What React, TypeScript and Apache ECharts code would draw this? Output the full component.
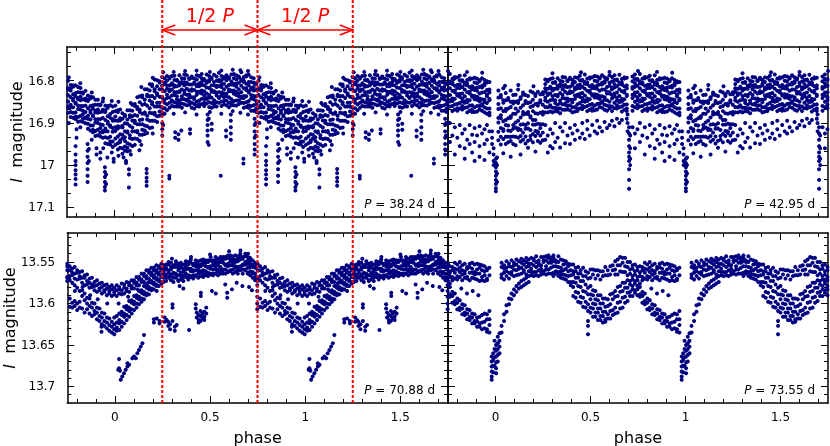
import React, { useEffect, useRef } from 'react';
import * as echarts from 'echarts';

const FONT = 'DejaVu Sans';
const NAVY = '#000080';
const RED = '#ff0000';

const periods = ['38.24', '42.95', '70.88', '73.55'];
const phaseRange = [-0.25, 1.75];
const phaseLabels = [0, 0.5, 1, 1.5];
const phaseMinor = [-0.2, -0.1, 0.1, 0.2, 0.3, 0.4, 0.6, 0.7, 0.8, 0.9, 1.1, 1.2, 1.3, 1.4, 1.6, 1.7];
const topMagRange = [16.72, 17.123];
const topMagLabels = [16.8, 16.9, 17, 17.1];
const topMagMinor = [16.7333, 16.7667, 16.8333, 16.8667, 16.9333, 16.9667, 17.0333, 17.0667];
const botMagRange = [13.515, 13.72];
const botMagLabels = [13.55, 13.6, 13.65, 13.7];
const botMagMinor = [13.52, 13.53, 13.54, 13.56, 13.57, 13.58, 13.59, 13.61, 13.62, 13.63, 13.64, 13.66, 13.67, 13.68, 13.69, 13.71];
const halfPeriodMarks = [0.25, 0.75, 1.25];

// each row: [phase, magnitude, magnitude, ...] (phase 0..1)
const p38Band: number[][] = [
  [0.004, 16.859, 16.872, 16.885, 16.894, 16.91, 16.919, 16.937, 16.952],
  [0.017, 16.87, 16.874, 16.895, 16.908, 16.913, 16.932, 16.948, 16.963],
  [0.029, 16.868, 16.889, 16.894, 16.909, 16.927, 16.941, 16.945, 16.959],
  [0.041, 16.877, 16.89, 16.907, 16.911, 16.928, 16.937, 16.96, 16.973],
  [0.054, 16.881, 16.884, 16.901, 16.92, 16.934, 16.943, 16.956, 16.966],
  [0.067, 16.87, 16.892, 16.902, 16.92, 16.923, 16.948, 16.959, 16.967],
  [0.08, 16.87, 16.882, 16.886, 16.907, 16.929, 16.936, 16.951, 16.966],
  [0.093, 16.857, 16.871, 16.884, 16.894, 16.911, 16.92, 16.938, 16.955],
  [0.106, 16.855, 16.86, 16.881, 16.895, 16.9, 16.92, 16.937, 16.952],
  [0.119, 16.839, 16.862, 16.867, 16.883, 16.903, 16.919, 16.922, 16.938],
  [0.132, 16.837, 16.851, 16.869, 16.874, 16.893, 16.903, 16.928, 16.943],
  [0.145, 16.835, 16.839, 16.857, 16.878, 16.892, 16.903, 16.916, 16.928],
  [0.158, 16.82, 16.845, 16.855, 16.875, 16.878, 16.906, 16.918, 16.926],
  [0.171, 16.82, 16.833, 16.837, 16.859, 16.883, 16.892, 16.908, 16.924],
  [0.184, 16.808, 16.823, 16.837, 16.847, 16.865, 16.876, 16.895, 16.912],
  [0.197, 16.809, 16.813, 16.836, 16.851, 16.856, 16.877, 16.895, 16.911],
  [0.21, 16.797, 16.82, 16.825, 16.841, 16.861, 16.876, 16.88, 16.895],
  [0.223, 16.799, 16.813, 16.83, 16.834, 16.852, 16.861, 16.884, 16.898],
  [0.236, 16.801, 16.804, 16.82, 16.838, 16.852, 16.861, 16.873, 16.883],
  [0.249, 16.791, 16.812, 16.821, 16.838, 16.84, 16.864, 16.875, 16.882],
  [0.262, 16.794, 16.804, 16.808, 16.825, 16.845, 16.852, 16.865, 16.878],
  [0.275, 16.789, 16.8, 16.811, 16.819, 16.833, 16.841, 16.856, 16.87],
  [0.288, 16.792, 16.795, 16.811, 16.821, 16.825, 16.84, 16.852, 16.864],
  [0.301, 16.789, 16.806, 16.809, 16.821, 16.835, 16.847, 16.849, 16.86],
  [0.314, 16.788, 16.798, 16.811, 16.814, 16.827, 16.834, 16.851, 16.861],
  [0.327, 16.798, 16.8, 16.813, 16.827, 16.837, 16.844, 16.853, 16.861],
  [0.34, 16.787, 16.804, 16.811, 16.825, 16.827, 16.847, 16.855, 16.861],
  [0.353, 16.794, 16.803, 16.806, 16.821, 16.837, 16.843, 16.854, 16.864],
  [0.366, 16.785, 16.795, 16.804, 16.811, 16.824, 16.831, 16.844, 16.856],
  [0.379, 16.787, 16.804, 16.807, 16.819, 16.833, 16.845, 16.847, 16.858],
  [0.392, 16.794, 16.796, 16.809, 16.823, 16.833, 16.84, 16.849, 16.857],
  [0.405, 16.79, 16.793, 16.809, 16.82, 16.824, 16.839, 16.852, 16.864],
  [0.418, 16.795, 16.804, 16.807, 16.822, 16.839, 16.844, 16.855, 16.866],
  [0.431, 16.787, 16.797, 16.81, 16.813, 16.826, 16.833, 16.85, 16.86],
  [0.444, 16.789, 16.806, 16.813, 16.826, 16.828, 16.847, 16.856, 16.861],
  [0.457, 16.784, 16.794, 16.803, 16.81, 16.823, 16.83, 16.843, 16.855],
  [0.47, 16.796, 16.798, 16.811, 16.825, 16.835, 16.843, 16.852, 16.86],
  [0.483, 16.785, 16.801, 16.805, 16.816, 16.83, 16.841, 16.844, 16.854],
  [0.496, 16.789, 16.798, 16.802, 16.817, 16.834, 16.84, 16.851, 16.862],
  [0.509, 16.793, 16.796, 16.811, 16.822, 16.826, 16.84, 16.853, 16.864],
  [0.522, 16.786, 16.803, 16.811, 16.825, 16.827, 16.846, 16.855, 16.861],
  [0.535, 16.79, 16.8, 16.812, 16.815, 16.828, 16.835, 16.851, 16.861],
  [0.548, 16.781, 16.798, 16.801, 16.813, 16.827, 16.839, 16.841, 16.852],
  [0.561, 16.789, 16.799, 16.808, 16.815, 16.828, 16.835, 16.849, 16.86],
  [0.574, 16.792, 16.794, 16.807, 16.821, 16.831, 16.839, 16.848, 16.856],
  [0.587, 16.787, 16.796, 16.799, 16.814, 16.831, 16.836, 16.847, 16.858],
  [0.6, 16.792, 16.795, 16.81, 16.821, 16.825, 16.839, 16.852, 16.863],
  [0.613, 16.785, 16.802, 16.809, 16.823, 16.825, 16.844, 16.853, 16.858],
  [0.626, 16.784, 16.794, 16.807, 16.81, 16.823, 16.831, 16.848, 16.858],
  [0.639, 16.787, 16.797, 16.807, 16.814, 16.827, 16.834, 16.847, 16.859],
  [0.652, 16.79, 16.792, 16.805, 16.82, 16.83, 16.837, 16.847, 16.855],
  [0.665, 16.78, 16.797, 16.8, 16.812, 16.827, 16.838, 16.841, 16.852],
  [0.678, 16.791, 16.8, 16.803, 16.818, 16.836, 16.841, 16.853, 16.864],
  [0.691, 16.787, 16.79, 16.807, 16.818, 16.822, 16.837, 16.851, 16.862],
  [0.704, 16.786, 16.803, 16.811, 16.825, 16.828, 16.848, 16.858, 16.864],
  [0.717, 16.792, 16.803, 16.817, 16.82, 16.834, 16.842, 16.86, 16.871],
  [0.73, 16.794, 16.805, 16.815, 16.823, 16.836, 16.844, 16.858, 16.871],
  [0.743, 16.806, 16.808, 16.822, 16.837, 16.848, 16.856, 16.866, 16.874],
  [0.756, 16.8, 16.818, 16.821, 16.834, 16.849, 16.861, 16.864, 16.876],
  [0.769, 16.81, 16.819, 16.823, 16.839, 16.857, 16.863, 16.874, 16.886],
  [0.782, 16.811, 16.814, 16.832, 16.843, 16.847, 16.863, 16.876, 16.888],
  [0.795, 16.811, 16.829, 16.837, 16.852, 16.854, 16.875, 16.885, 16.891],
  [0.808, 16.815, 16.827, 16.841, 16.844, 16.859, 16.867, 16.886, 16.897],
  [0.821, 16.817, 16.828, 16.838, 16.846, 16.86, 16.868, 16.883, 16.896],
  [0.834, 16.828, 16.83, 16.844, 16.86, 16.871, 16.879, 16.889, 16.898],
  [0.847, 16.824, 16.842, 16.846, 16.859, 16.874, 16.887, 16.889, 16.901],
  [0.86, 16.835, 16.845, 16.848, 16.865, 16.883, 16.89, 16.902, 16.914],
  [0.873, 16.838, 16.842, 16.86, 16.871, 16.876, 16.892, 16.906, 16.918],
  [0.886, 16.839, 16.858, 16.866, 16.882, 16.884, 16.906, 16.916, 16.922],
  [0.899, 16.845, 16.857, 16.871, 16.875, 16.891, 16.899, 16.919, 16.931],
  [0.912, 16.845, 16.857, 16.868, 16.876, 16.891, 16.9, 16.916, 16.929],
  [0.925, 16.856, 16.858, 16.874, 16.891, 16.903, 16.912, 16.923, 16.932],
  [0.938, 16.849, 16.869, 16.873, 16.888, 16.905, 16.919, 16.922, 16.935],
  [0.951, 16.859, 16.87, 16.874, 16.893, 16.913, 16.92, 16.934, 16.948],
  [0.964, 16.86, 16.864, 16.884, 16.897, 16.902, 16.92, 16.936, 16.95],
  [0.977, 16.858, 16.879, 16.888, 16.906, 16.909, 16.933, 16.944, 16.951],
  [0.99, 16.861, 16.874, 16.891, 16.895, 16.912, 16.921, 16.944, 16.957],
];
const p38Scatter: number[][] = [
  [0.02, 16.85, 16.978], [0.047, 16.982], [0.085, 16.853, 16.975], [0.14, 16.815, 16.952],
  [0.2, 16.793, 16.925], [0.255, 16.78, 16.905], [0.31, 16.779, 16.878], [0.37, 16.777, 16.875],
  [0.43, 16.776, 16.88], [0.5, 16.779, 16.874], [0.56, 16.776, 16.878], [0.62, 16.774, 16.872],
  [0.66, 16.775, 16.876], [0.7, 16.777, 16.88], [0.76, 16.792, 16.9], [0.82, 16.806, 16.91],
  [0.88, 16.828, 16.94], [0.94, 16.842, 16.96], [0.985, 16.848, 16.97],
  [0.795, 16.955, 16.975, 16.99, 17.0, 17.012, 17.022, 17.033, 17.046],
  [0.8, 16.915, 16.935],
  [0.858, 16.95, 16.966, 16.98, 16.995, 17.01, 17.025, 17.04],
  [0.865, 16.962, 16.99],
  [0.905, 16.96, 16.975],
  [0.925, 16.97, 16.985],
  [0.949, 17.005, 17.016, 17.028, 17.04, 17.052, 17.06],
  [0.955, 17.022, 17.045],
  [0.962, 16.982],
  [0.995, 16.985, 16.992],
  [0.06, 16.99, 16.995],
  [0.075, 17.01, 17.022, 17.053],
  [0.13, 16.965],
  [0.168, 17.009, 17.019, 17.03, 17.039, 17.049],
  [0.25, 16.9, 16.915, 16.93],
  [0.287, 17.025, 17.032],
  [0.318, 16.922, 16.935],
  [0.335, 16.927, 16.94],
  [0.35, 16.918],
  [0.396, 16.915, 16.925],
  [0.488, 16.88, 16.893, 16.905, 16.918, 16.93, 16.945],
  [0.494, 16.89, 16.952],
  [0.51, 16.902, 16.916],
  [0.557, 17.025],
  [0.585, 16.918, 16.932],
  [0.61, 16.88, 16.895, 16.91, 16.925, 16.94],
  [0.676, 16.985, 16.996],
  [0.735, 16.89, 16.905, 16.92, 16.935, 16.95, 16.963, 16.975],
  [0.74, 16.9, 16.93],
];

const p43Band: number[][] = [
  [0.015, 16.823, 16.84, 16.855, 16.867, 16.888, 16.899, 16.921, 16.941],
  [0.028, 16.834, 16.839, 16.865, 16.882, 16.889, 16.912, 16.933, 16.951],
  [0.041, 16.818, 16.846, 16.852, 16.872, 16.896, 16.915, 16.919, 16.938, 16.972],
  [0.054, 16.829, 16.846, 16.867, 16.872, 16.893, 16.905, 16.933, 16.95],
  [0.067, 16.841, 16.845, 16.866, 16.889, 16.906, 16.918, 16.933, 16.946],
  [0.08, 16.823, 16.85, 16.862, 16.884, 16.888, 16.919, 16.933, 16.943, 16.98],
  [0.093, 16.834, 16.849, 16.854, 16.878, 16.905, 16.914, 16.932, 16.95],
  [0.106, 16.833, 16.85, 16.866, 16.878, 16.899, 16.911, 16.933, 16.953],
  [0.119, 16.821, 16.848, 16.853, 16.872, 16.895, 16.913, 16.917, 16.935],
  [0.132, 16.839, 16.843, 16.864, 16.887, 16.904, 16.916, 16.931, 16.944, 16.975],
  [0.145, 16.828, 16.833, 16.858, 16.874, 16.88, 16.903, 16.923, 16.94],
  [0.158, 16.834, 16.848, 16.853, 16.878, 16.905, 16.914, 16.932, 16.949],
  [0.171, 16.836, 16.853, 16.874, 16.879, 16.901, 16.913, 16.942, 16.959],
  [0.184, 16.825, 16.851, 16.862, 16.884, 16.887, 16.917, 16.931, 16.94],
  [0.197, 16.828, 16.845, 16.86, 16.872, 16.893, 16.904, 16.926, 16.946],
  [0.21, 16.832, 16.836, 16.855, 16.877, 16.893, 16.904, 16.919, 16.931, 16.968],
  [0.223, 16.826, 16.854, 16.859, 16.878, 16.902, 16.92, 16.924, 16.943],
  [0.236, 16.832, 16.846, 16.851, 16.876, 16.903, 16.912, 16.93, 16.947],
  [0.249, 16.827, 16.832, 16.857, 16.874, 16.88, 16.903, 16.923, 16.941],
  [0.262, 16.797, 16.808, 16.818, 16.826, 16.84, 16.847, 16.862, 16.875, 16.905, 16.94],
  [0.275, 16.798, 16.801, 16.819, 16.83, 16.834, 16.85, 16.863, 16.875, 16.93, 16.97],
  [0.288, 16.796, 16.814, 16.818, 16.83, 16.846, 16.858, 16.861, 16.873, 16.915, 16.955],
  [0.301, 16.794, 16.805, 16.819, 16.823, 16.837, 16.845, 16.864, 16.875, 16.925, 16.96],
  [0.314, 16.803, 16.805, 16.819, 16.834, 16.846, 16.853, 16.864, 16.872, 16.9, 16.945],
  [0.327, 16.794, 16.812, 16.819, 16.834, 16.837, 16.857, 16.867, 16.873, 16.935],
  [0.34, 16.8, 16.809, 16.813, 16.829, 16.847, 16.853, 16.865, 16.877, 16.91, 16.958],
  [0.353, 16.791, 16.802, 16.812, 16.82, 16.834, 16.841, 16.856, 16.869, 16.92],
  [0.366, 16.792, 16.81, 16.814, 16.826, 16.842, 16.854, 16.857, 16.869, 16.9, 16.948],
  [0.379, 16.799, 16.801, 16.815, 16.83, 16.842, 16.849, 16.86, 16.868, 16.93],
  [0.392, 16.793, 16.796, 16.814, 16.825, 16.829, 16.845, 16.858, 16.87, 16.912, 16.95],
  [0.405, 16.798, 16.807, 16.811, 16.827, 16.845, 16.851, 16.863, 16.875, 16.925],
  [0.418, 16.792, 16.803, 16.817, 16.821, 16.835, 16.843, 16.862, 16.873, 16.905, 16.94],
  [0.431, 16.793, 16.811, 16.818, 16.833, 16.836, 16.856, 16.866, 16.872, 16.918],
  [0.444, 16.788, 16.799, 16.809, 16.817, 16.831, 16.838, 16.853, 16.866, 16.935],
  [0.457, 16.798, 16.8, 16.814, 16.829, 16.841, 16.848, 16.859, 16.867, 16.9, 16.925],
  [0.47, 16.785, 16.803, 16.807, 16.819, 16.835, 16.847, 16.85, 16.862, 16.938],
  [0.483, 16.795, 16.804, 16.808, 16.824, 16.842, 16.848, 16.86, 16.872, 16.895, 16.915],
  [0.496, 16.792, 16.795, 16.813, 16.824, 16.828, 16.844, 16.857, 16.869, 16.93],
  [0.509, 16.792, 16.81, 16.817, 16.832, 16.835, 16.855, 16.865, 16.871, 16.905],
  [0.522, 16.789, 16.8, 16.814, 16.818, 16.832, 16.84, 16.859, 16.87, 16.92],
  [0.535, 16.79, 16.801, 16.811, 16.819, 16.833, 16.84, 16.855, 16.868, 16.895, 16.925],
  [0.548, 16.793, 16.795, 16.809, 16.824, 16.836, 16.843, 16.854, 16.862, 16.91],
  [0.561, 16.787, 16.805, 16.809, 16.821, 16.837, 16.849, 16.852, 16.864, 16.92],
  [0.574, 16.792, 16.801, 16.805, 16.821, 16.839, 16.845, 16.857, 16.869, 16.898],
  [0.587, 16.794, 16.797, 16.815, 16.826, 16.83, 16.846, 16.859, 16.871, 16.912],
  [0.6, 16.787, 16.805, 16.812, 16.827, 16.83, 16.85, 16.86, 16.866, 16.905],
  [0.613, 16.791, 16.802, 16.816, 16.82, 16.834, 16.842, 16.861, 16.872, 16.895],
  [0.626, 16.787, 16.798, 16.808, 16.816, 16.83, 16.837, 16.852, 16.865, 16.908],
  [0.639, 16.797, 16.799, 16.813, 16.828, 16.84, 16.847, 16.858, 16.866, 16.89],
  [0.652, 16.786, 16.804, 16.808, 16.82, 16.836, 16.848, 16.851, 16.863, 16.9],
  [0.665, 16.796, 16.805, 16.809, 16.825, 16.843, 16.849, 16.861, 16.873, 16.893],
  [0.678, 16.792, 16.795, 16.813, 16.824, 16.828, 16.844, 16.857, 16.869],
  [0.691, 16.793, 16.811, 16.818, 16.833, 16.836, 16.856, 16.866, 16.872, 16.89],
  [0.721, 16.79, 16.801, 16.815, 16.819, 16.833, 16.841, 16.86, 16.871, 16.91],
  [0.734, 16.785, 16.796, 16.806, 16.814, 16.828, 16.835, 16.85, 16.863, 16.925, 16.96],
  [0.747, 16.796, 16.798, 16.812, 16.827, 16.839, 16.846, 16.857, 16.865, 16.915],
  [0.76, 16.784, 16.802, 16.806, 16.818, 16.834, 16.846, 16.849, 16.861, 16.9, 16.945],
  [0.773, 16.795, 16.804, 16.808, 16.824, 16.842, 16.848, 16.86, 16.872, 16.93],
  [0.786, 16.791, 16.794, 16.812, 16.823, 16.827, 16.843, 16.856, 16.868, 16.91, 16.975],
  [0.799, 16.792, 16.81, 16.817, 16.832, 16.835, 16.855, 16.865, 16.871, 16.935],
  [0.812, 16.788, 16.799, 16.809, 16.817, 16.831, 16.838, 16.853, 16.866, 16.905, 16.955],
  [0.825, 16.799, 16.801, 16.815, 16.83, 16.842, 16.849, 16.86, 16.868, 16.925],
  [0.838, 16.787, 16.805, 16.809, 16.821, 16.837, 16.849, 16.852, 16.864, 16.915, 16.96, 16.985],
  [0.851, 16.798, 16.807, 16.811, 16.827, 16.845, 16.851, 16.863, 16.875, 16.94],
  [0.864, 16.794, 16.797, 16.815, 16.826, 16.83, 16.846, 16.859, 16.871, 16.905, 16.95],
  [0.877, 16.795, 16.813, 16.82, 16.835, 16.838, 16.858, 16.868, 16.874, 16.928, 16.97],
  [0.89, 16.793, 16.804, 16.818, 16.822, 16.836, 16.844, 16.863, 16.874, 16.912, 16.945, 16.99],
  [0.903, 16.795, 16.806, 16.816, 16.824, 16.838, 16.845, 16.86, 16.873, 16.93],
  [0.916, 16.799, 16.801, 16.815, 16.83, 16.842, 16.849, 16.86, 16.868, 16.908, 16.955, 16.98],
  [0.929, 16.794, 16.812, 16.816, 16.828, 16.844, 16.856, 16.859, 16.871, 16.925],
  [0.942, 16.798, 16.807, 16.811, 16.827, 16.845, 16.851, 16.863, 16.875, 16.915, 16.95, 16.988],
  [0.955, 16.801, 16.804, 16.822, 16.833, 16.837, 16.853, 16.866, 16.878, 16.905, 16.94],
  [0.968, 16.803, 16.821, 16.828, 16.843, 16.846, 16.866, 16.876, 16.882, 16.92, 16.97],
];
const p43Scatter: number[][] = [
  [0.05, 16.812], [0.12, 16.81], [0.2, 16.813], [0.3, 16.782], [0.45, 16.78], [0.6, 16.779],
  [0.75, 16.777], [0.85, 16.779], [0.93, 16.781],
  [0.982, 16.92, 16.935, 16.95],
  [0.99, 16.96, 16.975, 16.99, 17.0],
  [0.002, 16.985, 16.995, 17.005, 17.015, 17.025, 17.035, 17.045, 17.055, 17.062],
  [0.008, 16.982, 17.0, 17.02, 17.04],
  [0.695, 16.88, 16.9, 16.92],
  [0.703, 16.91, 16.925, 16.94, 16.955, 16.97, 16.98, 16.99, 17.01, 17.035, 17.056],
  [0.709, 16.93, 16.96, 16.985, 17.0],
];

const p71Band: number[][] = [
  [0.256, 13.554, 13.558, 13.562, 13.565, 13.569, 13.574],
  [0.269, 13.553, 13.557, 13.559, 13.565, 13.569, 13.573],
  [0.282, 13.55, 13.553, 13.56, 13.563, 13.568, 13.569],
  [0.295, 13.551, 13.556, 13.559, 13.565, 13.567, 13.572],
  [0.308, 13.554, 13.556, 13.563, 13.564, 13.569, 13.574],
  [0.321, 13.549, 13.552, 13.556, 13.564, 13.565, 13.569],
  [0.334, 13.552, 13.556, 13.56, 13.566, 13.572, 13.573],
  [0.347, 13.551, 13.555, 13.557, 13.563, 13.567, 13.571],
  [0.36, 13.553, 13.558, 13.561, 13.566, 13.568, 13.573],
  [0.373, 13.549, 13.552, 13.556, 13.559, 13.564, 13.568],
  [0.386, 13.55, 13.553, 13.558, 13.566, 13.567, 13.571],
  [0.399, 13.547, 13.551, 13.558, 13.561, 13.567, 13.568],
  [0.412, 13.552, 13.554, 13.56, 13.561, 13.566, 13.57],
  [0.425, 13.548, 13.552, 13.555, 13.56, 13.566, 13.567],
  [0.438, 13.549, 13.553, 13.557, 13.56, 13.564, 13.569],
  [0.451, 13.548, 13.553, 13.555, 13.561, 13.562, 13.567],
  [0.464, 13.547, 13.551, 13.553, 13.56, 13.564, 13.568],
  [0.477, 13.548, 13.551, 13.555, 13.561, 13.563, 13.566],
  [0.49, 13.548, 13.55, 13.556, 13.557, 13.563, 13.567],
  [0.503, 13.544, 13.548, 13.555, 13.558, 13.564, 13.565],
  [0.516, 13.548, 13.551, 13.554, 13.559, 13.564, 13.566],
  [0.529, 13.544, 13.548, 13.552, 13.555, 13.559, 13.564],
  [0.542, 13.546, 13.551, 13.554, 13.559, 13.561, 13.566],
  [0.555, 13.544, 13.548, 13.55, 13.556, 13.56, 13.564],
  [0.568, 13.544, 13.547, 13.551, 13.559, 13.56, 13.564],
  [0.581, 13.544, 13.546, 13.553, 13.554, 13.559, 13.564],
  [0.594, 13.542, 13.545, 13.552, 13.555, 13.561, 13.562],
  [0.607, 13.542, 13.546, 13.549, 13.554, 13.56, 13.561],
  [0.62, 13.543, 13.547, 13.551, 13.554, 13.559, 13.564],
  [0.633, 13.542, 13.547, 13.55, 13.555, 13.557, 13.562],
  [0.646, 13.543, 13.547, 13.549, 13.556, 13.56, 13.564],
  [0.659, 13.54, 13.543, 13.547, 13.555, 13.556, 13.56],
  [0.672, 13.544, 13.546, 13.553, 13.554, 13.559, 13.564],
  [0.685, 13.54, 13.543, 13.55, 13.553, 13.559, 13.56],
  [0.698, 13.544, 13.548, 13.552, 13.557, 13.563, 13.564],
  [0.711, 13.545, 13.549, 13.553, 13.556, 13.561, 13.566],
  [0.724, 13.548, 13.553, 13.556, 13.562, 13.564, 13.569],
  [0.737, 13.551, 13.555, 13.557, 13.564, 13.568, 13.572],
  [0.75, 13.552, 13.555, 13.56, 13.568, 13.569, 13.573],
  [0.763, 13.555, 13.56, 13.567, 13.572, 13.594, 13.604],
  [0.776, 13.558, 13.563, 13.566, 13.575, 13.599, 13.605],
  [0.789, 13.556, 13.564, 13.57, 13.578, 13.597, 13.603],
  [0.802, 13.56, 13.563, 13.571, 13.581, 13.6, 13.608],
  [0.815, 13.562, 13.567, 13.57, 13.585, 13.598, 13.605],
  [0.828, 13.561, 13.569, 13.575, 13.584, 13.591, 13.606],
  [0.841, 13.566, 13.569, 13.578, 13.588, 13.596, 13.611],
  [0.854, 13.565, 13.573, 13.577, 13.593, 13.6, 13.607],
  [0.867, 13.57, 13.575, 13.581, 13.594, 13.603, 13.612],
  [0.88, 13.569, 13.577, 13.58, 13.599, 13.605, 13.615],
  [0.893, 13.574, 13.579, 13.584, 13.6, 13.609, 13.613],
  [0.906, 13.572, 13.578, 13.586, 13.605, 13.611, 13.619],
  [0.919, 13.576, 13.582, 13.584, 13.606, 13.615, 13.621],
  [0.932, 13.575, 13.58, 13.588, 13.611, 13.617, 13.625],
  [0.945, 13.578, 13.584, 13.586, 13.612, 13.621, 13.627],
  [0.958, 13.577, 13.582, 13.59, 13.617, 13.623, 13.63],
  [0.971, 13.58, 13.585, 13.588, 13.618, 13.626, 13.633],
  [0.984, 13.578, 13.583, 13.591, 13.622, 13.628, 13.635],
  [0.997, 13.581, 13.586, 13.589, 13.617, 13.625, 13.631, 13.637],
  [0.01, 13.578, 13.584, 13.591, 13.615, 13.623, 13.629, 13.633],
  [0.023, 13.58, 13.583, 13.588, 13.612, 13.62, 13.624, 13.632],
  [0.036, 13.576, 13.584, 13.589, 13.61, 13.614, 13.622, 13.628],
  [0.049, 13.577, 13.581, 13.588, 13.604, 13.612, 13.616, 13.624],
  [0.062, 13.574, 13.582, 13.585, 13.603, 13.607, 13.614, 13.62],
  [0.075, 13.575, 13.578, 13.586, 13.597, 13.605, 13.609, 13.616],
  [0.088, 13.572, 13.579, 13.582, 13.596, 13.599, 13.607, 13.612],
  [0.101, 13.572, 13.575, 13.582, 13.591, 13.598, 13.601, 13.608],
  [0.114, 13.568, 13.575, 13.578, 13.59, 13.593, 13.6, 13.605],
  [0.127, 13.568, 13.571, 13.578, 13.585, 13.592, 13.595, 13.601],
  [0.14, 13.564, 13.571, 13.574, 13.584, 13.587, 13.594, 13.598],
  [0.153, 13.564, 13.567, 13.574, 13.579, 13.586, 13.589, 13.595],
  [0.166, 13.56, 13.567, 13.57, 13.578, 13.581, 13.588, 13.59],
  [0.179, 13.56, 13.563, 13.57, 13.574, 13.58, 13.583, 13.589],
  [0.192, 13.557, 13.563, 13.566, 13.573, 13.575, 13.582, 13.584],
  [0.205, 13.557, 13.56, 13.566, 13.569, 13.575, 13.577, 13.583],
  [0.218, 13.554, 13.56, 13.563, 13.569, 13.571, 13.577, 13.579],
  [0.231, 13.555, 13.557, 13.563, 13.565, 13.571, 13.573, 13.579],
  [0.244, 13.552, 13.558, 13.56, 13.566, 13.568, 13.574, 13.576],
];
const p71Scatter: number[][] = [
  [0.79, 13.585], [0.83, 13.58], [0.87, 13.59], [0.91, 13.595], [0.96, 13.6], [0.02, 13.6],
  [0.07, 13.592], [0.12, 13.583], [0.17, 13.576], [0.22, 13.585],
  [0.3, 13.546], [0.4, 13.544], [0.5, 13.541], [0.6, 13.537], [0.66, 13.536], [0.7, 13.54],
  [0.93, 13.628, 13.634],
  [0.018, 13.68], [0.022, 13.667, 13.678], [0.027, 13.681], [0.031, 13.692], [0.039, 13.688],
  [0.048, 13.684], [0.057, 13.68], [0.066, 13.672, 13.676], [0.075, 13.674], [0.092, 13.666],
  [0.101, 13.664], [0.11, 13.666], [0.118, 13.66], [0.127, 13.656], [0.136, 13.652],
  [0.145, 13.648], [0.153, 13.638],
  [0.205, 13.619, 13.623], [0.22, 13.618], [0.235, 13.621, 13.624], [0.262, 13.617, 13.622],
  [0.272, 13.62], [0.28, 13.622, 13.627], [0.29, 13.625, 13.631], [0.303, 13.601, 13.605, 13.621],
  [0.315, 13.628, 13.633], [0.325, 13.626], [0.34, 13.579], [0.36, 13.582], [0.39, 13.632],
  [0.425, 13.601, 13.606], [0.43, 13.611, 13.617], [0.44, 13.614, 13.62, 13.623],
  [0.45, 13.609, 13.615, 13.621], [0.452, 13.587, 13.591], [0.46, 13.612, 13.618],
  [0.47, 13.61, 13.616, 13.62], [0.48, 13.605, 13.612], [0.51, 13.585], [0.53, 13.588],
  [0.58, 13.577], [0.59, 13.587, 13.593], [0.615, 13.583], [0.64, 13.575], [0.67, 13.579],
  [0.705, 13.58], [0.72, 13.584], [0.748, 13.578, 13.585, 13.592, 13.6, 13.607],
];

const p74Band: number[][] = [
  [0.032, 13.551, 13.556, 13.565, 13.569, 13.627, 13.635],
  [0.045, 13.554, 13.558, 13.563, 13.571, 13.613, 13.621],
  [0.058, 13.549, 13.557, 13.561, 13.567, 13.602, 13.61],
  [0.071, 13.552, 13.555, 13.563, 13.57, 13.594, 13.601],
  [0.084, 13.548, 13.556, 13.562, 13.565, 13.588, 13.595],
  [0.097, 13.551, 13.554, 13.559, 13.567, 13.583, 13.59],
  [0.11, 13.547, 13.553, 13.56, 13.566, 13.579, 13.586],
  [0.123, 13.549, 13.556, 13.558, 13.565, 13.576, 13.582],
  [0.136, 13.546, 13.551, 13.557, 13.564, 13.573, 13.58],
  [0.149, 13.548, 13.553, 13.56, 13.562, 13.571, 13.578],
  [0.162, 13.545, 13.55, 13.556, 13.565, 13.569, 13.576],
  [0.175, 13.547, 13.552, 13.555, 13.561, 13.567, 13.574],
  [0.188, 13.545, 13.552, 13.558, 13.566, 13.562],
  [0.201, 13.548, 13.554, 13.562, 13.567, 13.546],
  [0.214, 13.543, 13.55, 13.556, 13.562, 13.566],
  [0.227, 13.548, 13.554, 13.56, 13.567, 13.551],
  [0.24, 13.544, 13.554, 13.558, 13.562, 13.565],
  [0.253, 13.548, 13.55, 13.561, 13.564, 13.544],
  [0.266, 13.543, 13.548, 13.555, 13.565, 13.559],
  [0.279, 13.545, 13.551, 13.559, 13.564, 13.542],
  [0.292, 13.545, 13.551, 13.557, 13.564, 13.548],
  [0.305, 13.542, 13.549, 13.555, 13.563, 13.567, 13.545],
  [0.318, 13.548, 13.55, 13.561, 13.564, 13.555],
  [0.331, 13.543, 13.55, 13.556, 13.562, 13.567],
  [0.344, 13.547, 13.557, 13.561, 13.565, 13.569],
  [0.357, 13.548, 13.553, 13.56, 13.57, 13.565],
  [0.37, 13.552, 13.558, 13.566, 13.571, 13.549],
  [0.383, 13.555, 13.561, 13.567, 13.574, 13.552],
  [0.396, 13.553, 13.56, 13.566, 13.574, 13.578],
  [0.409, 13.553, 13.561, 13.565, 13.574, 13.58, 13.591],
  [0.422, 13.557, 13.561, 13.569, 13.575, 13.586, 13.593],
  [0.435, 13.556, 13.564, 13.569, 13.579, 13.587, 13.598],
  [0.448, 13.56, 13.564, 13.573, 13.58, 13.592, 13.599],
  [0.461, 13.557, 13.567, 13.573, 13.585, 13.593, 13.604],
  [0.474, 13.561, 13.567, 13.577, 13.586, 13.598, 13.605],
  [0.487, 13.563, 13.57, 13.581, 13.589, 13.601, 13.609, 13.621, 13.627, 13.637],
  [0.5, 13.559, 13.569, 13.579, 13.589, 13.595, 13.605, 13.611],
  [0.513, 13.559, 13.565, 13.584, 13.59, 13.6, 13.606, 13.616],
  [0.526, 13.56, 13.57, 13.585, 13.595, 13.601, 13.611, 13.616],
  [0.539, 13.56, 13.566, 13.59, 13.596, 13.606, 13.611, 13.62],
  [0.552, 13.561, 13.571, 13.59, 13.6, 13.606, 13.615, 13.62],
  [0.565, 13.561, 13.567, 13.594, 13.6, 13.61, 13.615, 13.623],
  [0.578, 13.556, 13.566, 13.594, 13.604, 13.61, 13.619, 13.622],
  [0.591, 13.56, 13.566, 13.595, 13.603, 13.613, 13.618],
  [0.604, 13.555, 13.565, 13.589, 13.601, 13.609, 13.618],
  [0.617, 13.554, 13.56, 13.588, 13.595, 13.608, 13.614],
  [0.63, 13.549, 13.559, 13.565, 13.585, 13.592, 13.605, 13.612],
  [0.643, 13.547, 13.554, 13.565, 13.58, 13.591, 13.599, 13.611],
  [0.656, 13.544, 13.554, 13.561, 13.579, 13.586, 13.598, 13.606],
  [0.669, 13.545, 13.551, 13.562, 13.575, 13.585, 13.593, 13.605],
  [0.682, 13.545, 13.555, 13.562, 13.575, 13.581, 13.592, 13.599],
  [0.695, 13.55, 13.556, 13.566, 13.572, 13.581, 13.587, 13.597],
  [0.708, 13.55, 13.559, 13.564, 13.573, 13.577, 13.586, 13.591],
  [0.721, 13.554, 13.558, 13.567, 13.571, 13.579, 13.583, 13.591],
  [0.734, 13.553, 13.561, 13.565, 13.573, 13.576, 13.584, 13.587],
  [0.747, 13.556, 13.56, 13.568, 13.572, 13.579, 13.583, 13.59],
  [0.76, 13.555, 13.563, 13.567, 13.576, 13.58, 13.589, 13.592],
  [0.773, 13.556, 13.56, 13.568, 13.572, 13.586, 13.591, 13.599],
  [0.786, 13.551, 13.558, 13.563, 13.57, 13.588, 13.597, 13.601],
  [0.799, 13.553, 13.559, 13.567, 13.571, 13.594, 13.599, 13.607],
  [0.812, 13.55, 13.557, 13.562, 13.568, 13.596, 13.605, 13.608],
  [0.825, 13.554, 13.56, 13.565, 13.572, 13.601, 13.606, 13.613],
  [0.838, 13.552, 13.561, 13.564, 13.569, 13.602, 13.611, 13.614],
  [0.851, 13.556, 13.558, 13.568, 13.57, 13.607, 13.612, 13.619],
  [0.864, 13.552, 13.556, 13.563, 13.572, 13.608, 13.616, 13.62],
  [0.877, 13.551, 13.558, 13.563, 13.569, 13.612, 13.617, 13.624],
  [0.89, 13.553, 13.562, 13.565, 13.57, 13.613, 13.621, 13.624],
  [0.903, 13.552, 13.559, 13.564, 13.571, 13.617, 13.621, 13.628],
  [0.916, 13.553, 13.557, 13.564, 13.573, 13.616, 13.624, 13.628],
  [0.929, 13.554, 13.56, 13.568, 13.572, 13.614, 13.623, 13.631],
  [0.942, 13.555, 13.561, 13.566, 13.573, 13.612, 13.622, 13.63],
  [0.955, 13.558, 13.56, 13.57, 13.572, 13.613, 13.619, 13.631, 13.634],
  [0.968, 13.557, 13.566, 13.609, 13.619, 13.626, 13.635],
];
const p74Scatter: number[][] = [
  [0.98, 13.664, 13.67, 13.676, 13.682, 13.688, 13.692],
  [0.988, 13.66, 13.668, 13.675, 13.683],
  [0.995, 13.645, 13.655, 13.665, 13.675],
  [0.003, 13.65, 13.657, 13.664, 13.671, 13.678, 13.684],
  [0.012, 13.64, 13.648, 13.655, 13.662, 13.67],
  [0.021, 13.636, 13.645, 13.652, 13.66],
  [0.82, 13.582], [0.85, 13.588], [0.88, 13.585], [0.91, 13.59],
];

const grids = [
  { left: 67, top: 47, width: 381, height: 170 },
  { left: 448, top: 47, width: 380, height: 170 },
  { left: 67, top: 233, width: 381, height: 170 },
  { left: 448, top: 233, width: 380, height: 170 },
];

function fold(band: number[][], scatter: number[][]): number[][] {
  const out: number[][] = [];
  for (const row of [...band, ...scatter]) {
    const ph = row[0];
    for (let k = -1; k <= 1; k++) {
      const x = ph + k;
      if (x < phaseRange[0] || x > phaseRange[1]) continue;
      for (let i = 1; i < row.length; i++) out.push([x, row[i]]);
    }
  }
  return out;
}

const tickStyle = { color: '#000', width: 1 };
const frameLine = { show: true, onZero: false, lineStyle: { color: '#000', width: 1.5 } };
const noLine = { show: false, onZero: false };

function xAxesFor(g: number, labels: boolean) {
  const common = { type: 'value', gridIndex: g, min: phaseRange[0], max: phaseRange[1], splitLine: { show: false } };
  const major = (pos: string) => ({
    ...common,
    position: pos,
    axisLine: frameLine,
    axisTick: { show: true, inside: true, length: 7, customValues: phaseLabels, lineStyle: tickStyle },
    axisLabel: pos === 'bottom' && labels
      ? { show: true, customValues: phaseLabels, fontSize: 12, fontFamily: FONT, color: '#000', margin: 8 }
      : { show: false },
    ...(pos === 'bottom' && labels
      ? { name: 'phase', nameLocation: 'middle', nameGap: 26, nameTextStyle: { fontSize: 16, fontFamily: FONT, color: '#000' } }
      : {}),
  });
  const minor = (pos: string) => ({
    ...common,
    position: pos,
    axisLine: noLine,
    axisTick: { show: true, inside: true, length: 4, customValues: phaseMinor, lineStyle: tickStyle },
    axisLabel: { show: false },
  });
  return [major('bottom'), minor('bottom'), major('top'), minor('top')];
}

function yAxesFor(g: number, labels: boolean, range: number[], majors: number[], minors: number[]) {
  const common = { type: 'value', gridIndex: g, min: range[0], max: range[1], inverse: true, splitLine: { show: false } };
  const major = (pos: string) => ({
    ...common,
    position: pos,
    axisLine: frameLine,
    axisTick: { show: true, inside: true, length: 7, customValues: majors, lineStyle: tickStyle },
    axisLabel: pos === 'left' && labels
      ? { show: true, customValues: majors, fontSize: 12, fontFamily: FONT, color: '#000', margin: 12 }
      : { show: false },
    ...(pos === 'left' && labels
      ? {
          name: '{i|I}  magnitude',
          nameLocation: 'middle',
          nameRotate: 90,
          nameGap: 42,
          nameTextStyle: {
            fontSize: 16, fontFamily: FONT, color: '#000',
            rich: { i: { fontSize: 16, fontFamily: FONT, fontStyle: 'italic', color: '#000' } },
          },
        }
      : {}),
  });
  const minor = (pos: string) => ({
    ...common,
    position: pos,
    axisLine: noLine,
    axisTick: { show: true, inside: true, length: 4, customValues: minors, lineStyle: tickStyle },
    axisLabel: { show: false },
  });
  return [major('left'), minor('left'), major('right'), minor('right')];
}

export default function App() {
  const ref = useRef<HTMLDivElement>(null);
  useEffect(() => {
    if (!ref.current) return;
    const chart = echarts.init(ref.current, undefined, { renderer: 'svg' });
    const panels = [
      { data: fold(p38Band, p38Scatter), range: topMagRange, majors: topMagLabels, minors: topMagMinor },
      { data: fold(p43Band, p43Scatter), range: topMagRange, majors: topMagLabels, minors: topMagMinor },
      { data: fold(p71Band, p71Scatter), range: botMagRange, majors: botMagLabels, minors: botMagMinor },
      { data: fold(p74Band, p74Scatter), range: botMagRange, majors: botMagLabels, minors: botMagMinor },
    ];
    const xAxis: any[] = [];
    const yAxis: any[] = [];
    panels.forEach((p, g) => {
      xAxis.push(...xAxesFor(g, g >= 2));
      yAxis.push(...yAxesFor(g, g % 2 === 0, p.range, p.majors, p.minors));
    });
    const series = panels.map((p, g) => ({
      type: 'scatter',
      xAxisIndex: g * 4,
      yAxisIndex: g * 4,
      data: p.data,
      symbol: 'circle',
      symbolSize: 4,
      large: false,
      itemStyle: { color: NAVY, opacity: 1 },
      emphasis: { disabled: true },
      silent: true,
    }));
    chart.setOption({
      animation: false,
      textStyle: { fontFamily: FONT },
      grid: grids.map((g) => ({ ...g, containLabel: false })),
      xAxis,
      yAxis,
      series,
    });

    const xs = halfPeriodMarks.map((p) => chart.convertToPixel({ xAxisIndex: 0 }, p) as number);
    const yBottom = grids[2].top + grids[2].height;
    const graphic: any[] = [];
    xs.forEach((x) => {
      graphic.push({
        type: 'line', z: 100,
        shape: { x1: x, y1: 0, x2: x, y2: yBottom },
        style: { stroke: RED, lineWidth: 2, lineDash: [3, 2] },
      });
    });
    const ay = 30;
    for (let i = 0; i < xs.length - 1; i++) {
      const a = xs[i];
      const b = xs[i + 1];
      graphic.push({ type: 'line', z: 100, shape: { x1: a, y1: ay, x2: b, y2: ay }, style: { stroke: RED, lineWidth: 1.5 } });
      graphic.push({ type: 'polyline', z: 100, shape: { points: [[a + 13, ay - 5], [a, ay], [a + 13, ay + 5]] }, style: { stroke: RED, lineWidth: 1.5, fill: 'none' } });
      graphic.push({ type: 'polyline', z: 100, shape: { points: [[b - 13, ay - 5], [b, ay], [b - 13, ay + 5]] }, style: { stroke: RED, lineWidth: 1.5, fill: 'none' } });
      graphic.push({
        type: 'text', z: 100, x: (a + b) / 2, y: 15,
        style: {
          text: '1/2 {i|P}', fill: RED, fontSize: 19, fontFamily: FONT, align: 'center', verticalAlign: 'middle',
          rich: { i: { fontSize: 19, fontFamily: FONT, fontStyle: 'italic', fill: RED } },
        },
      });
    }
    grids.forEach((g, i) => {
      graphic.push({
        type: 'text', z: 100, x: g.left + g.width - 13, y: g.top + g.height - 7,
        style: {
          text: `{i|P} = ${periods[i]} d`, fill: '#000', fontSize: 12, fontFamily: FONT, align: 'right', verticalAlign: 'bottom',
          rich: { i: { fontSize: 12, fontFamily: FONT, fontStyle: 'italic', fill: '#000' } },
        },
      });
    });
    chart.setOption({ graphic });
    return () => chart.dispose();
  }, []);
  return <div ref={ref} style={{ position: 'fixed', left: 0, top: 0, width: 830, height: 446 }} />;
}
